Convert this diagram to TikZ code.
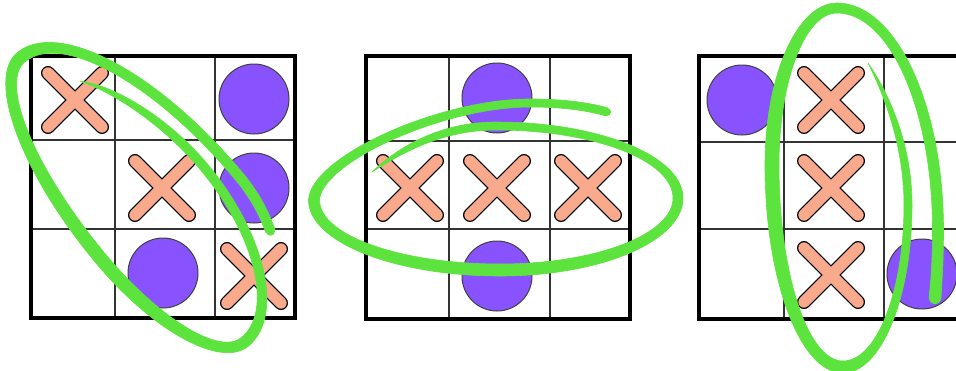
\documentclass[tikz,border=0pt]{standalone}
\definecolor{hlgreen}{RGB}{93,227,62}
\definecolor{opurple}{RGB}{137,82,255}
\definecolor{xsalmon}{RGB}{250,170,140}
\tikzset{
  cellline/.style={draw=black!80,line width=1.3pt},
  frameline/.style={draw=black,line width=4pt,line join=miter},
  xout/.style={draw=black,line width=14pt,line cap=round},
  xin/.style={draw=xsalmon,line width=11.4pt,line cap=round},
  omark/.style={fill=opurple,draw=black!75,line width=1pt},
  grf/.style={fill=hlgreen,draw=hlgreen,line width=0.6pt,line join=round},
}
\newcommand\xmk[2]{%
  \draw[xout] (#1-27,#2-27) -- (#1+27,#2+27) (#1-27,#2+27) -- (#1+27,#2-27);
  \draw[xin] (#1-27,#2-27) -- (#1+27,#2+27) (#1-27,#2+27) -- (#1+27,#2-27);}
\newcommand\omk[2]{\draw[omark] (#1,#2) circle[radius=35];}
\newcommand\brd[8]{%
  \draw[cellline] (#2,#5) -- (#2,#8) (#3,#5) -- (#3,#8) (#1,#6) -- (#4,#6) (#1,#7) -- (#4,#7);
  \draw[frameline] (#1,#5) rectangle (#4,#8);}
% quarter of a stroke ring: centre x, centre y, start angle, end angle, x radius, y radius, width at x-extreme, width at y-extreme
\newcommand\qr[8]{%
  \pgfmathsetmacro\qao{#5+#7/2}\pgfmathsetmacro\qbo{#6+#8/2}%
  \pgfmathsetmacro\qai{#5-#7/2}\pgfmathsetmacro\qbi{#6-#8/2}%
  \begin{scope}[shift={(#1,#2)}]
  \filldraw[grf] (#3:\qao\space and \qbo) arc[start angle=#3,end angle=#4,x radius=\qao,y radius=\qbo]
    -- (#4:\qai\space and \qbi) arc[start angle=#4,end angle=#3,x radius=\qai,y radius=\qbi] -- cycle;
  \end{scope}}
\begin{document}
\begin{tikzpicture}[x=1pt,y=-1pt]
\useasboundingbox (0,0) rectangle (956,370);
\fill[white] (0,0) rectangle (956,370);
% boards
\brd{31}{115}{215}{295}{56}{140}{229}{318}
\brd{366}{449}{550}{630}{56}{141}{229}{319}
\brd{699}{784}{884}{975}{56}{142}{229}{319}
% board 1 marks
\xmk{75}{100}\xmk{162}{188}\xmk{254}{276}
\omk{254}{99}\omk{254}{188}\omk{163}{273}
% board 2 marks
\xmk{410}{188}\xmk{497}{188}\xmk{588}{188}
\omk{497}{98}\omk{497}{276}
% board 3 marks
\xmk{831}{100}\xmk{831}{188}\xmk{831}{275}
\omk{742}{100}\omk{922}{274}
% green loop 1 (diagonal)
\begin{scope}[shift={(134,200)},rotate=-50.4]
  \filldraw[grf] (-126,-34) .. controls (-102,-58) and (-40,-79.5) .. (20,-79.5)
     -- (20,-70.5) .. controls (-40,-70.5) and (-98,-52) .. cycle;
  \qr{20}{5}{270}{360}{160}{80}{11}{9}
  \qr{22}{5}{0}{90}{158}{58}{11}{13}
  \qr{22}{-4}{90}{180}{204}{67}{12}{13}
  \qr{50}{-4}{180}{270}{232}{92}{12}{10}
  \qr{50}{-4}{270}{298}{130}{92}{8}{10}
  \fill[hlgreen] (111,-85.2) circle[radius=4.5];
\end{scope}
% green loop 2 (middle row)
\filldraw[grf] (372,172) .. controls (398,147) and (440,122) .. (496,122)
   -- (496,130) .. controls (442,130) and (402,153) .. cycle;
\qr{496}{198}{270}{360}{182}{72}{10}{8}
\qr{500}{198}{0}{90}{178}{72}{10}{12}
\qr{500}{200}{90}{180}{186}{70}{11}{12}
\filldraw[grf] (308.5,200) .. controls (310.5,157) and (438,99) .. (530,99)
   -- (530,107) .. controls (442,107) and (321.5,163) .. (319.5,200) -- cycle;
\filldraw[grf] (530,99) .. controls (565,99) and (591,103) .. (608,108)
   -- (606,116) .. controls (589,111) and (565,107) .. (530,107) -- cycle;
\fill[hlgreen] (607,112) circle[radius=4];
% green loop 3 (middle column)
\filldraw[grf] (868,63) .. controls (893,99) and (912,150) .. (912,205)
   -- (904,205) .. controls (904,150) and (887,101) .. cycle;
\qr{843}{205}{0}{90}{65}{162}{8}{12}
\qr{843}{165}{90}{180}{71}{202}{14}{12}
\qr{837}{165}{180}{270}{65}{157}{14}{10}
\qr{837}{230}{270}{360}{101}{222}{11}{10}
\filldraw[grf] (943.5,230) .. controls (943.5,260) and (942,280) .. (941,298)
   -- (929,298) .. controls (931,280) and (932.5,260) .. (932.5,230) -- cycle;
\fill[hlgreen] (935,298) circle[radius=6];
\end{tikzpicture}
\end{document}
